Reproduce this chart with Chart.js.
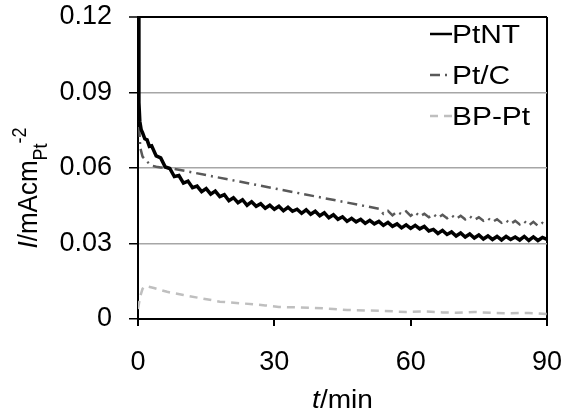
<!DOCTYPE html>
<html lang="en">
<head>
<meta charset="UTF-8">
<title>Current decay</title>
<script src="https://cdn.jsdelivr.net/npm/chart.js@4.4.0/dist/chart.umd.min.js"></script>
<style>
  body { margin: 0; background: #fff; }
  #chart-container { width: 568px; height: 417px; }
</style>
</head>
<body>
<div id="chart-container"><canvas id="myChart" width="568" height="417"></canvas></div>
<script>
const seriesNames = ['PtNT', 'Pt/C', 'BP-Pt'];

// t / min and I / mA cm_Pt^-2
const ptntTime = [0, 0.2, 0.4, 0.7, 1, 1.5, 2, 2.5, 3, 4, 5, 6, 7, 8, 9, 10,
  11, 12, 13, 14, 15, 16, 17, 18, 19, 20, 21, 22, 23, 24, 25, 26, 27, 28, 29, 30,
  31, 32, 33, 34, 35, 36, 37, 38, 39, 40, 41, 42, 43, 44, 45, 46, 47, 48, 49, 50,
  51, 52, 53, 54, 55, 56, 57, 58, 59, 60, 61, 62, 63, 64, 65, 66, 67, 68, 69, 70,
  71, 72, 73, 74, 75, 76, 77, 78, 79, 80, 81, 82, 83, 84, 85, 86, 87, 88, 89, 90];
const ptntCurrent = [0.120, 0.086, 0.0785, 0.0752, 0.0740, 0.0716, 0.0712, 0.0686, 0.0688, 0.0648, 0.0640, 0.0604, 0.0598, 0.0566, 0.0570, 0.0540,
  0.0548, 0.0522, 0.0528, 0.0506, 0.0518, 0.0496, 0.0508, 0.0486, 0.0494, 0.0470, 0.0482, 0.0462, 0.0474, 0.0452, 0.0466, 0.0448, 0.0458, 0.0440, 0.0452, 0.0436,
  0.0448, 0.0430, 0.0444, 0.0428, 0.0436, 0.0420, 0.0434, 0.0416, 0.0428, 0.0410, 0.0422, 0.0402, 0.0414, 0.0396, 0.0406, 0.0388, 0.0400, 0.0386, 0.0396, 0.0380,
  0.0392, 0.0378, 0.0388, 0.0372, 0.0384, 0.0368, 0.0378, 0.0362, 0.0374, 0.0360, 0.0372, 0.0358, 0.0368, 0.0350, 0.0356, 0.0340, 0.0352, 0.0336, 0.0346, 0.0330,
  0.0342, 0.0326, 0.0338, 0.0322, 0.0334, 0.0318, 0.0330, 0.0316, 0.0328, 0.0314, 0.0328, 0.0316, 0.0326, 0.0314, 0.0328, 0.0312, 0.0326, 0.0312, 0.0324, 0.0316];

const ptcTime = [0, 0.2, 0.5, 1, 1.5, 2, 3, 4, 5, 7, 53,
  54, 55, 56, 57, 58, 59, 60, 61, 62, 63, 64, 65, 66, 67, 68, 69, 70, 71, 72,
  73, 74, 75, 76, 77, 78, 79, 80, 81, 82, 83, 84, 85, 86, 87, 88, 89, 90];
const ptcCurrent = [0.120, 0.078, 0.068, 0.0645, 0.0635, 0.0625, 0.0610, 0.0605, 0.0602, 0.0600, 0.0438,
  0.0418, 0.0430, 0.0412, 0.0426, 0.0416, 0.0428, 0.0410, 0.0424, 0.0408, 0.0418, 0.0404, 0.0416, 0.0402, 0.0414, 0.0400, 0.0412, 0.0398, 0.0410, 0.0396,
  0.0408, 0.0394, 0.0404, 0.0390, 0.0400, 0.0386, 0.0396, 0.0382, 0.0392, 0.0378, 0.0390, 0.0376, 0.0388, 0.0372, 0.0386, 0.0370, 0.0382, 0.0372];

const bpptTime = [0, 0.5, 1, 1.7, 3.5, 6.4, 10, 14, 18, 23, 28, 31, 35, 39, 43, 46,
  50, 54, 59, 63, 67, 70, 74, 78, 82, 86, 90];
const bpptCurrent = [0.004, 0.009, 0.012, 0.0131, 0.0123, 0.0108, 0.0095, 0.0082, 0.0069, 0.0062, 0.0054, 0.0048, 0.0046, 0.0044, 0.0040, 0.0036,
  0.0034, 0.0032, 0.0028, 0.0030, 0.0026, 0.0025, 0.0028, 0.0024, 0.0023, 0.0024, 0.0020];

const xTickLabels = ['0', '30', '60', '90'];
const yTickLabels = ['0', '0.03', '0.06', '0.09', '0.12'];

const fam = "Arial, 'Liberation Sans', sans-serif";

function toPoints(xs, ys) {
    return xs.map((x, i) => ({ x: x, y: ys[i] }));
}

// y title has italic I, subscript Pt and superscript -2, x title has italic t
const axisTitles = {
    id: 'axisTitles',
    afterDraw(chart) {
        const ctx = chart.ctx;
        const area = chart.chartArea;
        ctx.save();
        ctx.fillStyle = '#000';
        ctx.textAlign = 'left';
        ctx.textBaseline = 'alphabetic';

        const yParts = [
            { text: 'I', font: 'italic 26px ' + fam, dy: 0 },
            { text: '/mAcm', font: '26px ' + fam, dy: 0 },
            { text: 'Pt', font: '18px ' + fam, dy: 9 },
            { text: '-2', font: '18px ' + fam, dy: -10 }
        ];
        let total = 0;
        yParts.forEach(p => { ctx.font = p.font; p.w = ctx.measureText(p.text).width; total += p.w; });
        const cy = (area.top + area.bottom) / 2 + 20;
        ctx.save();
        ctx.translate(37, cy + total / 2);
        ctx.rotate(-Math.PI / 2);
        ctx.scale(1, 1.08);
        let pos = 0;
        yParts.forEach(p => { ctx.font = p.font; ctx.fillText(p.text, pos, p.dy); pos += p.w; });
        ctx.restore();

        const xParts = [
            { text: 't', font: 'italic 26px ' + fam },
            { text: '/min', font: '26px ' + fam }
        ];
        total = 0;
        xParts.forEach(p => { ctx.font = p.font; p.w = ctx.measureText(p.text).width * 1.08; total += p.w; });
        pos = (area.left + area.right) / 2 - total / 2;
        xParts.forEach(p => {
            ctx.save();
            ctx.translate(pos, 408);
            ctx.scale(1.08, 1);
            ctx.font = p.font;
            ctx.fillText(p.text, 0, 0);
            ctx.restore();
            pos += p.w;
        });
        ctx.restore();
    }
};

// legend in the top right corner, line sample touching the label
const sideLegend = {
    id: 'sideLegend',
    afterDraw(chart) {
        const ctx = chart.ctx;
        ctx.save();
        ctx.font = '26px ' + fam;
        ctx.textAlign = 'left';
        ctx.textBaseline = 'alphabetic';
        chart.data.datasets.forEach((ds, i) => {
            const base = 43 + 41 * i;
            ctx.beginPath();
            ctx.setLineDash(ds.borderDash || []);
            ctx.strokeStyle = ds.borderColor;
            ctx.lineWidth = 2.5;
            ctx.moveTo(430, base - 9);
            ctx.lineTo(452, base - 9);
            ctx.stroke();
            ctx.setLineDash([]);
            ctx.fillStyle = '#000';
            ctx.save();
            ctx.translate(452, base);
            ctx.scale(1.15, 1);
            ctx.fillText(ds.label, 0, 0);
            ctx.restore();
        });
        ctx.restore();
    }
};

function createChart() {
    const ctx = document.getElementById('myChart').getContext('2d');
    Chart.defaults.font.family = fam;
    Chart.defaults.font.size = 27;
    Chart.defaults.color = '#000';

    new Chart(ctx, {
        type: 'line',
        data: {
            datasets: [{
                label: seriesNames[0],
                data: toPoints(ptntTime, ptntCurrent),
                borderColor: '#000000',
                borderWidth: 3.5,
                pointRadius: 0,
                tension: 0
            }, {
                label: seriesNames[1],
                data: toPoints(ptcTime, ptcCurrent),
                borderColor: '#595959',
                borderWidth: 2.5,
                borderDash: [10, 5, 2, 5],
                pointRadius: 0,
                tension: 0
            }, {
                label: seriesNames[2],
                data: toPoints(bpptTime, bpptCurrent),
                borderColor: '#bfbfbf',
                borderWidth: 2.5,
                borderDash: [8, 6],
                pointRadius: 0,
                tension: 0
            }]
        },
        options: {
            responsive: false,
            animation: false,
            devicePixelRatio: 1,
            layout: { padding: { top: 17, right: 21, left: 0, bottom: 0 } },
            plugins: {
                legend: { display: false },
                tooltip: { enabled: false }
            },
            scales: {
                x: {
                    type: 'linear',
                    min: 0,
                    max: 90,
                    afterFit: s => { s.height = 98; s.paddingLeft = 0; s.paddingRight = 0; },
                    ticks: {
                        stepSize: 30,
                        padding: 20,
                        maxRotation: 0,
                        callback: (v, i) => xTickLabels[i]
                    },
                    grid: {
                        drawOnChartArea: true,
                        color: c => (c.tick && c.tick.value === 90) ? '#000' : 'rgba(0,0,0,0)',
                        lineWidth: 2,
                        tickColor: '#000',
                        tickLength: 7,
                        tickWidth: 2
                    },
                    border: { display: true, color: '#000', width: 2 }
                },
                y: {
                    min: 0,
                    max: 0.12,
                    afterFit: s => { s.width = 138; s.paddingTop = 0; s.paddingBottom = 0; },
                    ticks: {
                        stepSize: 0.03,
                        padding: 17,
                        callback: (v, i) => yTickLabels[i]
                    },
                    grid: {
                        color: c => (c.tick && Math.abs(c.tick.value - 0.12) < 1e-9) ? '#000' : '#a6a6a6',
                        lineWidth: c => (c.tick && Math.abs(c.tick.value - 0.12) < 1e-9) ? 2 : 1.5,
                        tickColor: '#000',
                        tickLength: 9,
                        tickWidth: 1.5
                    },
                    border: { display: true, color: '#000', width: 2 }
                }
            }
        },
        plugins: [axisTitles, sideLegend]
    });
}

createChart();
</script>
</body>
</html>
